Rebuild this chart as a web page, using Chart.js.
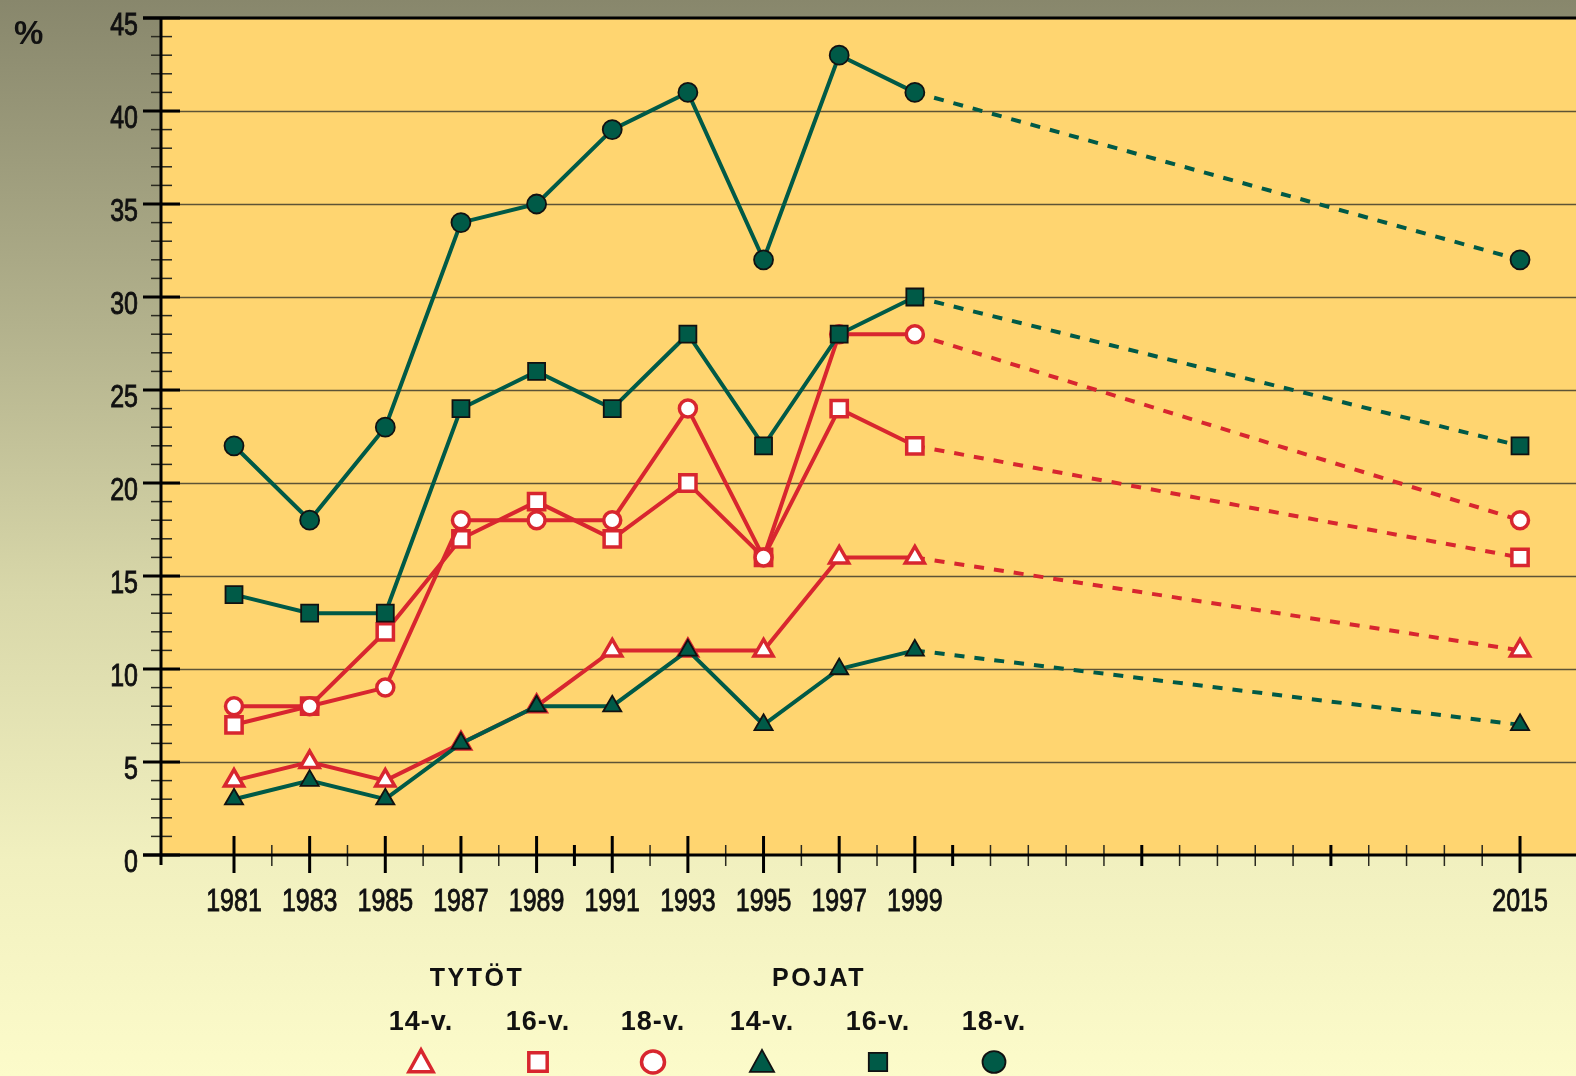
<!DOCTYPE html>
<html>
<head>
<meta charset="utf-8">
<script src="https://cdn.jsdelivr.net/npm/chart.js@4.4.1/dist/chart.umd.min.js"></script>
<style>
html, body { margin: 0; padding: 0; }
body {
    width: 1576px; height: 1076px; overflow: hidden;
    background: linear-gradient(to bottom, #88876c 0%, #b2b18c 30%, #d8d7a9 55%, #f1f0bf 80%, #fcfbca 100%);
}
canvas { display: block; }
</style>
</head>
<body>
<canvas id="chart" width="1576" height="1076"></canvas>
<script>
// vuodet ja arvot (%)
const years = [1981, 1983, 1985, 1987, 1989, 1991, 1993, 1995, 1997, 1999];
const forecastYear = 2015;

const boys18 = [22, 18, 23, 34, 35, 39, 41, 32, 43, 41];
const boys16 = [14, 13, 13, 24, 26, 24, 28, 22, 28, 30];
const boys14 = [3, 4, 3, 6, 8, 8, 11, 7, 10, 11];
const girls18 = [8, 8, 9, 18, 18, 18, 24, 16, 28, 28];
const girls16 = [7, 8, 12, 17, 19, 17, 20, 16, 24, 22];
const girls14 = [4, 5, 4, 6, 8, 11, 11, 11, 16, 16];

// ennuste 2015
const forecast = { boys18: 32, boys16: 22, boys14: 7, girls18: 18, girls16: 16, girls14: 11 };

// akselit
const yTicks = [0, 5, 10, 15, 20, 25, 30, 35, 40, 45];
const xLabelYears = [1981, 1983, 1985, 1987, 1989, 1991, 1993, 1995, 1997, 1999, 2015];
const xMidTicks = [1990, 2000, 2005, 2010];
const xMinorTicks = [1982, 1984, 1986, 1988, 1992, 1994, 1996, 1998,
    2001, 2002, 2003, 2004, 2006, 2007, 2008, 2009, 2011, 2012, 2013, 2014];

const groupLabels = ['TYTÖT', 'POJAT'];
const ageLabels = ['14-v.', '16-v.', '18-v.', '14-v.', '16-v.', '18-v.'];

const GREEN = '#005a47';
const RED = '#d8262f';
const SANS = '"Liberation Sans", Arial, sans-serif';

function pts(vals) {
    return years.map((x, i) => ({ x: x, y: vals[i] }));
}

function style(color, shape) {
    const boy = color === GREEN;
    return {
        borderColor: color,
        borderWidth: 4,
        pointStyle: shape,
        pointBackgroundColor: boy ? GREEN : '#ffffff',
        pointBorderColor: boy ? '#111111' : RED,
        pointBorderWidth: boy ? 1.8 : 3.5,
        tension: 0
    };
}

function series(label, vals, color, shape, radius) {
    return Object.assign({ label: label, data: pts(vals), pointRadius: radius }, style(color, shape));
}

function dashed(label, vals, end, color, shape, radius) {
    return Object.assign(style(color, shape), {
        label: label + ' ennuste',
        data: [{ x: years[years.length - 1], y: vals[vals.length - 1] }, { x: forecastYear, y: end }],
        pointRadius: [0, radius],
        borderDash: [10, 10]
    });
}

const datasets = [
    series('Pojat 18-v.', boys18, GREEN, 'circle', 9.5),
    series('Pojat 16-v.', boys16, GREEN, 'rect', 12),
    series('Pojat 14-v.', boys14, GREEN, 'triangle', 10.5),
    dashed('Pojat 18-v.', boys18, forecast.boys18, GREEN, 'circle', 9.5),
    dashed('Pojat 16-v.', boys16, forecast.boys16, GREEN, 'rect', 12),
    dashed('Pojat 14-v.', boys14, forecast.boys14, GREEN, 'triangle', 10.5),
    series('Tytöt 18-v.', girls18, RED, 'circle', 8.5),
    series('Tytöt 16-v.', girls16, RED, 'rect', 11.5),
    series('Tytöt 14-v.', girls14, RED, 'triangle', 11),
    dashed('Tytöt 18-v.', girls18, forecast.girls18, RED, 'circle', 8.5),
    dashed('Tytöt 16-v.', girls16, forecast.girls16, RED, 'rect', 11.5),
    dashed('Tytöt 14-v.', girls14, forecast.girls14, RED, 'triangle', 11)
];

function line(ctx, x1, y1, x2, y2, w, c) {
    ctx.beginPath();
    ctx.lineWidth = w;
    ctx.strokeStyle = c;
    ctx.moveTo(x1, y1);
    ctx.lineTo(x2, y2);
    ctx.stroke();
}

// kapea teksti: vaakasuunnassa puristettu Liberation Sans
function narrow(ctx, text, x, y, align) {
    ctx.save();
    ctx.translate(x, y);
    ctx.scale(0.78, 1);
    ctx.textAlign = align;
    ctx.lineWidth = 0.9;
    ctx.strokeStyle = '#111';
    ctx.fillText(text, 0, 0);
    ctx.strokeText(text, 0, 0);
    ctx.restore();
}

function marker(ctx, shape, x, y, r, fill, stroke, bw) {
    ctx.beginPath();
    if (shape === 'circle') {
        ctx.ellipse(x, y, r, r * 0.95, 0, 0, Math.PI * 2);
    } else if (shape === 'rect') {
        ctx.rect(x - r * 0.8, y - r * 0.8, r * 1.6, r * 1.6);
    } else {
        ctx.moveTo(x, y - r * 1.05);
        ctx.lineTo(x + r * 1.05, y + r * 0.85);
        ctx.lineTo(x - r * 1.05, y + r * 0.85);
        ctx.closePath();
    }
    ctx.fillStyle = fill;
    ctx.fill();
    ctx.lineWidth = bw;
    ctx.strokeStyle = stroke;
    ctx.stroke();
}

const frame = {
    id: 'frame',
    beforeDatasetsDraw(chart) {
        const { ctx, chartArea: a, scales: { y } } = chart;
        ctx.save();
        ctx.fillStyle = '#ffd570';
        ctx.fillRect(a.left, a.top, a.right - a.left, a.bottom - a.top);
        yTicks.forEach(v => {
            if (v === 0 || v === 45) return;
            const py = Math.round(y.getPixelForValue(v)) + 0.5;
            line(ctx, a.left, py, a.right, py, 1.5, '#5d5336');
        });
        ctx.restore();
    },
    afterDatasetsDraw(chart) {
        const { ctx, chartArea: a, scales: { x, y } } = chart;
        ctx.save();
        ctx.lineCap = 'butt';
        // y-akselin pienet jaot
        for (let v = 1; v < 45; v++) {
            if (v % 5 === 0) continue;
            const py = y.getPixelForValue(v);
            line(ctx, a.left - 10, py, a.left + 11, py, 1.5, '#2a2a20');
        }
        yTicks.forEach(v => {
            const py = y.getPixelForValue(v);
            line(ctx, a.left - 18, py, a.left + 19, py, 3, '#000');
        });
        // x-akselin jaot
        xMinorTicks.forEach(v => {
            const px = x.getPixelForValue(v);
            line(ctx, px, a.bottom - 10, px, a.bottom + 11, 1.5, '#2a2a20');
        });
        xMidTicks.forEach(v => {
            const px = x.getPixelForValue(v);
            line(ctx, px, a.bottom - 10, px, a.bottom + 11, 3, '#000');
        });
        xLabelYears.forEach(v => {
            const px = x.getPixelForValue(v);
            line(ctx, px, a.bottom - 19, px, a.bottom + 18, 3, '#000');
        });
        // reunat
        line(ctx, a.left - 18, a.top, a.right, a.top, 3, '#000');
        line(ctx, a.left - 18, a.bottom, a.right, a.bottom, 3, '#000');
        line(ctx, a.left, a.top, a.left, a.bottom + 10, 3, '#000');

        // akselien tekstit
        ctx.fillStyle = '#111';
        ctx.font = '32px ' + SANS;
        ctx.textBaseline = 'alphabetic';
        yTicks.forEach(v => {
            narrow(ctx, String(v), a.left - 23, y.getPixelForValue(v) + 17, 'right');
        });
        xLabelYears.forEach(v => {
            narrow(ctx, String(v), x.getPixelForValue(v), a.bottom + 56, 'center');
        });
        ctx.textAlign = 'left';
        ctx.font = 'bold 33px ' + SANS;
        ctx.fillText('%', 14, 44);

        // selite
        ctx.textAlign = 'center';
        ctx.font = 'bold 25px ' + SANS;
        ctx.letterSpacing = '2.5px';
        ctx.fillText(groupLabels[0], 477, 986);
        ctx.fillText(groupLabels[1], 819, 986);
        ctx.font = 'bold 27px ' + SANS;
        ctx.letterSpacing = '1px';
        const lx = [421, 538, 653, 762, 878, 994];
        const shapes = ['triangle', 'rect', 'circle'];
        ageLabels.forEach((t, i) => {
            ctx.fillStyle = '#111';
            ctx.fillText(t, lx[i], 1030);
            const boy = i > 2;
            marker(ctx, shapes[i % 3], lx[i], 1062, 11.5,
                boy ? GREEN : '#fff', boy ? '#111' : RED, boy ? 1.8 : 3.5);
        });
        ctx.restore();
    }
};

new Chart(document.getElementById('chart'), {
    type: 'line',
    data: { datasets: datasets },
    options: {
        responsive: false,
        animation: false,
        events: [],
        layout: { autoPadding: false, padding: { left: 161, top: 18, right: 0, bottom: 221 } },
        scales: {
            x: { type: 'linear', min: 1979.07, max: 2016.48, display: false },
            y: { min: 0, max: 45, display: false }
        },
        plugins: { legend: { display: false }, tooltip: { enabled: false } }
    },
    plugins: [frame]
});
</script>
</body>
</html>
